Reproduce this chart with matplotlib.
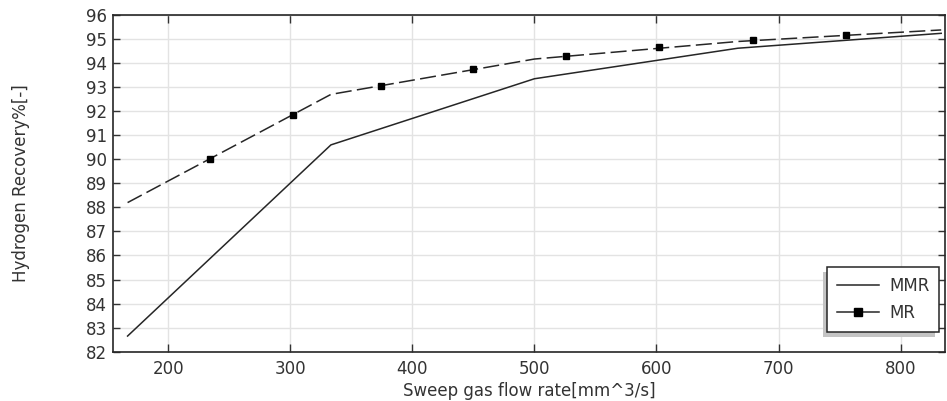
import matplotlib
matplotlib.use("Agg")
import matplotlib.pyplot as plt
import matplotlib.patheffects as pe
from matplotlib.lines import Line2D

# values
flow = [166.7, 333.3, 500.0, 666.7, 833.3]
mmr_recovery = [82.65, 90.6, 93.35, 94.62, 95.24]
mr_recovery = [88.2, 92.7, 94.17, 94.9, 95.38]

# MR marker positions as drawn on the curve
mr_marker_x = [234.4, 302.5, 374.6, 449.8, 526.0, 602.5, 678.7, 755.7]
mr_marker_y = [90.03, 91.85, 93.05, 93.74, 94.31, 94.66, 94.97, 95.18]

x_ticks = [200, 300, 400, 500, 600, 700, 800]
y_ticks = list(range(82, 97))

line_color = "#262626"
text_color = "#333333"

fig = plt.figure(figsize=(9.47, 4.01), dpi=100)
ax = fig.add_axes([0.119, 0.123, 0.879, 0.8395])

ax.plot(flow, mmr_recovery, color=line_color, lw=1.1, label="MMR")
ax.plot(flow, mr_recovery, color=line_color, lw=1.1, dashes=(10.5, 3.5))
ax.plot(mr_marker_x, mr_marker_y, ls="none", marker="s", ms=5, color="black")

ax.set_xlim(154.5, 836.5)
ax.set_ylim(82, 96)
ax.set_xticks(x_ticks)
ax.set_yticks(y_ticks)
ax.grid(True, color="#e3e3e3", lw=1)
ax.set_axisbelow(True)

ax.tick_params(axis="x", direction="in", length=6, width=1, top=True,
               labelsize=12, colors=text_color, pad=6)
ax.tick_params(axis="y", direction="in", length=5, width=1, right=True,
               labelsize=12, colors=text_color, pad=4)
for s in ax.spines.values():
    s.set_color(line_color)
    s.set_linewidth(1.2)

ax.set_xlabel("Sweep gas flow rate[mm^3/s]", fontsize=12, color=text_color, labelpad=3)
ax.set_ylabel("Hydrogen Recovery%[-]", fontsize=12, color=text_color, labelpad=40)

handles = [
    Line2D([], [], color=line_color, lw=1.1),
    Line2D([], [], color=line_color, lw=1.1, marker="s", ms=6, mfc="black", mec="black"),
]
leg = ax.legend(handles, ["MMR", "MR"], loc="lower right", bbox_to_anchor=(0.993, 0.059),
                fontsize=12, frameon=True, fancybox=False, framealpha=1,
                handlelength=2.5, borderpad=0.6, labelspacing=0.55, handletextpad=0.6,
                borderaxespad=0)
frame = leg.get_frame()
frame.set_edgecolor(line_color)
frame.set_linewidth(1.1)
frame.set_path_effects([
    pe.SimplePatchShadow(offset=(-3, -4), shadow_rgbFace="#c4c4c4", alpha=1),
    pe.Normal(),
])
for t in leg.get_texts():
    t.set_color(text_color)

fig.savefig("out.png", dpi=100)
